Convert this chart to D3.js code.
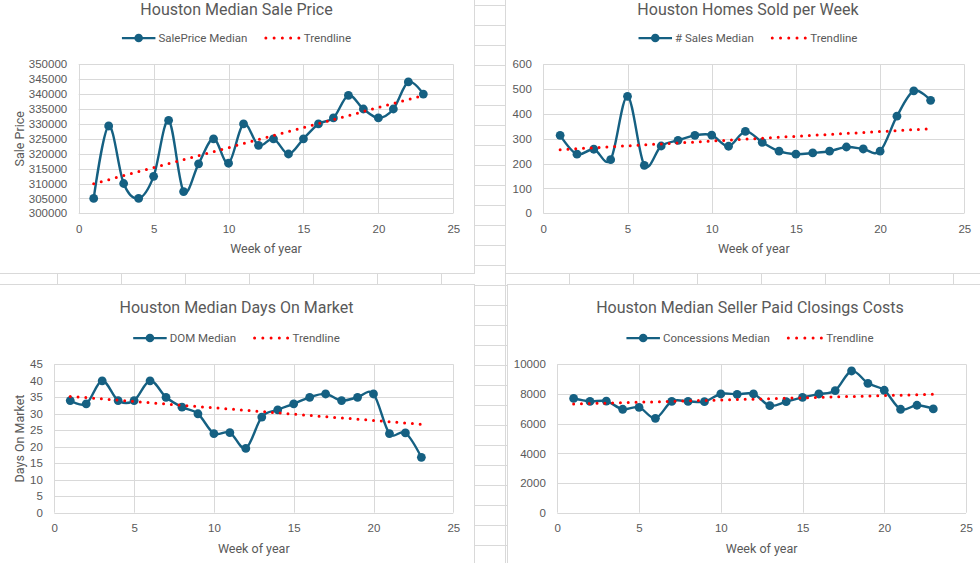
<!DOCTYPE html>
<html>
<head>
<meta charset="utf-8">
<script src="https://cdn.jsdelivr.net/npm/d3@7"></script>
<style>
    body { margin: 0; background: #fff; overflow: hidden; }
    svg { display: block; }
</style>
</head>
<body>
<div id="chart"></div>
<script>

// ---- data ----
const weeks = [1, 2, 3, 4, 5, 6, 7, 8, 9, 10, 11, 12, 13, 14, 15, 16, 17, 18, 19, 20, 21, 22, 23];

const salePrice = [305000, 329300, 310000, 305000, 312400, 331200, 307300, 316600, 325000, 316800, 330000, 322800,
    325000, 319900, 325000, 330000, 332000, 339600, 335000, 332000, 335000, 344100, 340000];

const homesSold = [314, 238, 258, 216, 471, 193, 271, 294, 314, 315, 270, 330,
    286, 250, 238, 243, 250, 267, 259, 250, 391, 493, 455];

const daysOnMarket = [34, 33, 40, 34, 34, 40, 35, 32, 30, 24, 24.3, 19.5,
    29, 31.2, 33, 35, 36, 34, 35, 36, 24, 24.2, 16.8];

const concessions = [7700, 7500, 7520, 6970, 7100, 6360, 7500, 7500, 7480, 8000, 7980, 8000,
    7210, 7480, 7770, 8000, 8230, 9550, 8720, 8250, 6970, 7240, 6990];

const xTicks = [0, 5, 10, 15, 20, 25];
const salePriceTicks = [300000, 305000, 310000, 315000, 320000, 325000, 330000, 335000, 340000, 345000, 350000];
const homesSoldTicks = [0, 100, 200, 300, 400, 500, 600];
const daysOnMarketTicks = [0, 5, 10, 15, 20, 25, 30, 35, 40, 45];
const concessionsTicks = [0, 2000, 4000, 6000, 8000, 10000];

const titles = ["Houston Median Sale Price", "Houston Homes Sold per Week",
    "Houston Median Days On Market", "Houston Median Seller Paid Closings Costs"];
const seriesNames = ["SalePrice Median", "# Sales Median", "DOM Median", "Concessions Median"];
const trendName = "Trendline";
const xTitle = "Week of year";


const lineColor = "#156082";
const textColor = "#595959";
const gridColor = "#d9d9d9";
const titleFont = "Roboto, 'Noto Sans', sans-serif";
const tickFont = "'Liberation Sans', Arial, sans-serif";

const svg = d3.select("#chart").append("svg")
    .attr("width", 980)
    .attr("height", 563);

// spreadsheet cells behind the chart objects
let sheet = svg.append("g").attr("class", "sheet");
sheet.selectAll(".col")
    .data(d3.range(-6.5, 980, 64))
    .enter().append("line")
    .attr("x1", d => d).attr("x2", d => d)
    .attr("y1", 0).attr("y2", 563)
    .attr("stroke", gridColor);
sheet.selectAll(".row")
    .data(d3.range(5.5, 563, 20))
    .enter().append("line")
    .attr("x1", 0).attr("x2", 980)
    .attr("y1", d => d).attr("y2", d => d)
    .attr("stroke", gridColor);


class TrendChart {

    constructor(svg, values, ticks, cfg) {
        this.svg = svg;
        this.values = values;
        this.ticks = ticks;
        this.cfg = cfg;
        this.displayData = [];

        this.initVis();
    }

    initVis() {
        let vis = this;
        let c = vis.cfg;

        vis.g = vis.svg.append("g");

        // chart object frame
        vis.g.append("rect")
            .attr("x", c.box.x + 0.5)
            .attr("y", c.box.y + 0.5)
            .attr("width", c.box.w)
            .attr("height", c.box.h)
            .attr("fill", "#fff")
            .attr("stroke", gridColor);

        vis.cx = c.box.x + c.box.w / 2;

        vis.x = d3.scaleLinear()
            .domain([xTicks[0], xTicks[xTicks.length - 1]])
            .range([c.plot.left, c.plot.right]);

        vis.y = d3.scaleLinear()
            .domain([vis.ticks[0], vis.ticks[vis.ticks.length - 1]])
            .range([c.plot.bottom, c.plot.top]);

        // gridlines
        vis.g.append("g")
            .attr("class", "grid")
            .selectAll("line")
            .data(vis.ticks)
            .enter().append("line")
            .attr("x1", c.plot.left).attr("x2", c.plot.right)
            .attr("y1", d => Math.round(vis.y(d)) + 0.5)
            .attr("y2", d => Math.round(vis.y(d)) + 0.5)
            .attr("stroke", gridColor);

        vis.g.append("g")
            .attr("class", "grid")
            .selectAll("line")
            .data(xTicks)
            .enter().append("line")
            .attr("x1", d => Math.round(vis.x(d)) + 0.5)
            .attr("x2", d => Math.round(vis.x(d)) + 0.5)
            .attr("y1", c.plot.top).attr("y2", c.plot.bottom)
            .attr("stroke", gridColor);

        // axes (labels only, Excel draws no tick marks here)
        vis.xAxis = vis.g.append("g")
            .attr("class", "x-axis axis")
            .attr("transform", `translate(0, ${c.plot.bottom})`)
            .call(d3.axisBottom(vis.x).tickValues(xTicks).tickSize(0).tickPadding(11.5));

        vis.yAxis = vis.g.append("g")
            .attr("class", "y-axis axis")
            .attr("transform", `translate(${c.plot.left}, 0)`)
            .call(d3.axisLeft(vis.y).tickValues(vis.ticks).tickSize(0).tickPadding(11.5).tickFormat(d3.format("d")));

        vis.g.selectAll(".axis .domain").remove();
        vis.g.selectAll(".axis text")
            .attr("fill", textColor)
            .style("font-family", tickFont)
            .style("font-size", "11.5px");

        // titles (top row charts are scrolled a little out of view)
        vis.g.append("text")
            .attr("x", vis.cx)
            .attr("y", Math.max(c.box.y + 29, 15))
            .attr("text-anchor", "middle")
            .attr("fill", textColor)
            .style("font-family", titleFont)
            .style("font-size", "16px")
            .text(c.title);

        vis.g.append("text")
            .attr("x", (c.plot.left + c.plot.right) / 2)
            .attr("y", c.plot.bottom + 40)
            .attr("text-anchor", "middle")
            .attr("fill", textColor)
            .style("font-family", titleFont)
            .style("font-size", "12.5px")
            .text(xTitle);

        if (c.yTitle) {
            vis.g.append("text")
                .attr("transform", `translate(${c.box.x + 25}, ${(c.plot.top + c.plot.bottom) / 2}) rotate(-90)`)
                .attr("text-anchor", "middle")
                .attr("fill", textColor)
                .style("font-family", titleFont)
                .style("font-size", "12.5px")
                .text(c.yTitle);
        }

        vis.drawLegend();

        vis.wrangleData();
    }

    drawLegend() {
        let vis = this;
        let c = vis.cfg;

        let legend = vis.g.append("g").attr("class", "legend");
        let ly = c.box.y + 54;

        legend.append("line")
            .attr("x1", 0).attr("x2", 33.5)
            .attr("y1", ly).attr("y2", ly)
            .attr("stroke", lineColor)
            .attr("stroke-width", 2.25);
        legend.append("circle")
            .attr("cx", 16.75).attr("cy", ly).attr("r", 4.3)
            .attr("fill", lineColor);

        let t1 = legend.append("text")
            .attr("x", 36.5)
            .attr("y", ly + 4)
            .attr("fill", textColor)
            .style("font-family", titleFont)
            .style("font-size", "11.5px")
            .text(c.series);

        let dotsX = 36.5 + t1.node().getComputedTextLength() + 18.5;
        legend.append("line")
            .attr("x1", dotsX).attr("x2", dotsX + 33.1)
            .attr("y1", ly).attr("y2", ly)
            .attr("stroke", "#ff0000")
            .attr("stroke-width", 3)
            .attr("stroke-linecap", "round")
            .attr("stroke-dasharray", "0 8.25");

        let t2 = legend.append("text")
            .attr("x", dotsX + 38)
            .attr("y", ly + 4)
            .attr("fill", textColor)
            .style("font-family", titleFont)
            .style("font-size", "11.5px")
            .text(trendName);

        let total = dotsX + 38 + t2.node().getComputedTextLength();
        legend.attr("transform", `translate(${vis.cx - total / 2}, 0)`);
    }

    wrangleData() {
        let vis = this;

        vis.displayData = weeks.map((w, i) => ({week: w, value: vis.values[i]}));

        // linear least-squares trendline, as Excel adds it
        let mx = d3.mean(weeks);
        let my = d3.mean(vis.values);
        let sxy = d3.sum(weeks, (w, i) => (w - mx) * (vis.values[i] - my));
        let sxx = d3.sum(weeks, w => (w - mx) * (w - mx));
        let slope = sxy / sxx;
        let first = weeks[0], last = weeks[weeks.length - 1];
        vis.trendData = [
            {week: first, value: my + slope * (first - mx)},
            {week: last, value: my + slope * (last - mx)}
        ];

        vis.updateVis();
    }

    updateVis() {
        let vis = this;

        let line = d3.line()
            .x(d => vis.x(d.week))
            .y(d => vis.y(d.value));

        vis.g.append("path")
            .datum(vis.displayData)
            .attr("class", "series")
            .attr("fill", "none")
            .attr("stroke", lineColor)
            .attr("stroke-width", 2.4)
            .attr("stroke-linejoin", "round")
            .attr("d", line.curve(d3.curveCatmullRom.alpha(0)));

        vis.g.selectAll(".marker")
            .data(vis.displayData)
            .enter().append("circle")
            .attr("class", "marker")
            .attr("cx", d => vis.x(d.week))
            .attr("cy", d => vis.y(d.value))
            .attr("r", 4.4)
            .attr("fill", lineColor);

        vis.g.append("path")
            .datum(vis.trendData)
            .attr("class", "trend")
            .attr("fill", "none")
            .attr("stroke", "#ff0000")
            .attr("stroke-width", 3)
            .attr("stroke-linecap", "round")
            .attr("stroke-dasharray", "0 7.8")
            .attr("d", d3.line().x(d => vis.x(d.week)).y(d => vis.y(d.value)));
    }
}


new TrendChart(svg, salePrice, salePriceTicks, {
    box: {x: -1, y: -16, w: 475, h: 289},
    plot: {left: 78.7, right: 453.3, top: 64.3, bottom: 213.3},
    title: titles[0], series: seriesNames[0], yTitle: "Sale Price"
});

new TrendChart(svg, homesSold, homesSoldTicks, {
    box: {x: 505, y: -16, w: 486, h: 289},
    plot: {left: 543.3, right: 964.3, top: 64.3, bottom: 213.3},
    title: titles[1], series: seriesNames[1]
});

new TrendChart(svg, daysOnMarket, daysOnMarketTicks, {
    box: {x: -1, y: 284, w: 475, h: 300},
    plot: {left: 54.3, right: 453.3, top: 364.3, bottom: 512.7},
    title: titles[2], series: seriesNames[2], yTitle: "Days On Market"
});

new TrendChart(svg, concessions, concessionsTicks, {
    box: {x: 507, y: 284, w: 486, h: 300},
    plot: {left: 557.3, right: 966, top: 364.3, bottom: 512.7},
    title: titles[3], series: seriesNames[3]
});

</script>
</body>
</html>
